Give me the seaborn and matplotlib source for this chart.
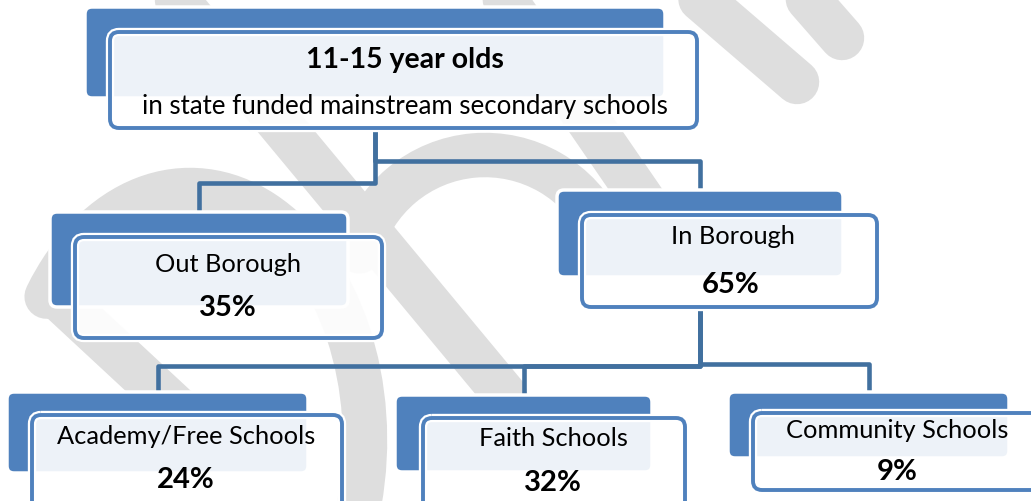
import matplotlib
matplotlib.use("Agg")
import matplotlib.pyplot as plt
import seaborn as sns
from matplotlib.patches import FancyBboxPatch, Arc

# data
node_labels = ["11-15 year olds", "Out Borough", "In Borough",
               "Academy/Free Schools", "Faith Schools", "Community Schools"]
node_pcts = [None, 35, 65, 24, 32, 9]
node_parent = [None, 0, 0, 2, 2, 2]
root_subtitle = "in state funded mainstream secondary schools"

# layout in pixels (x0, y0, x1, y1), y downwards
back_boxes = [(85, 7, 665, 98), (50, 212, 348, 307), (557, 190, 843, 277),
              (7, 392, 308, 473), (395, 395, 652, 472), (728, 392, 1009, 458)]
front_boxes = [(110, 32, 697, 128), (75, 237, 382, 338), (582, 215, 877, 307),
               (32, 415, 342, 515), (423, 418, 685, 515), (753, 413, 1045, 490)]
label_pos = [(405, 60), (228, 264), (733, 237), (186, 437), (553, 438), (897, 430)]
pct_pos = [None, (228, 308), (731, 285), (186, 480), (553, 483), (897, 472)]
elbow_y = [None, 183, 161, 366, 366, 364]

sns.set_theme(style="white")
plt.rcParams["font.family"] = ["Lato", "DejaVu Sans"]

BLUE = "#4F81BD"
LINE = "#41709F"
WM = "#DEDEDE"

fig = plt.figure(figsize=(10.31, 5.01), dpi=100)
ax = fig.add_axes([0, 0, 1, 1])
ax.set_xlim(0, 1031)
ax.set_ylim(501, 0)
ax.axis("off")

# faint watermark behind the chart
wm_lw = 32
for (xa, ya), (xb, yb) in [((177, 0), (505, 395)), ((55, 295), (195, 425)),
                           ((502, -5), (660, 225)), ((690, -10), (797, 82)),
                           ((800, -10), (842, 38))]:
    ax.plot([xa, xb], [ya, yb], color=WM, lw=wm_lw, solid_capstyle="round", zorder=0)
ax.add_patch(Arc((190, 440), 350, 500, theta1=225, theta2=380, color=WM, lw=wm_lw,
                 capstyle="round", zorder=0))
ax.add_patch(Arc((485, 285), 260, 260, theta1=195, theta2=335, color=WM, lw=wm_lw,
                 capstyle="round", zorder=0))

# connectors
for i, p in enumerate(node_parent):
    if p is None:
        continue
    px = (back_boxes[p][0] + back_boxes[p][2]) / 2
    py = front_boxes[p][3]
    cx = (back_boxes[i][0] + back_boxes[i][2]) / 2
    cy = back_boxes[i][1] - 2
    ey = elbow_y[i]
    ax.plot([px, px, cx, cx], [py, ey, ey, cy], color=LINE, lw=3.3,
            solid_joinstyle="round", zorder=1)

# nodes
for i, lab in enumerate(node_labels):
    x0, y0, x1, y1 = back_boxes[i]
    ax.add_patch(FancyBboxPatch((x0, y0), x1 - x0, y1 - y0,
                                boxstyle="round,pad=0,rounding_size=7",
                                fc=BLUE, ec="white", lw=2.5, zorder=2))
    x0, y0, x1, y1 = front_boxes[i]
    ax.add_patch(FancyBboxPatch((x0, y0), x1 - x0, y1 - y0,
                                boxstyle="round,pad=0,rounding_size=9",
                                fc="none", ec="white", lw=6, zorder=3))
    ax.add_patch(FancyBboxPatch((x0, y0), x1 - x0, y1 - y0,
                                boxstyle="round,pad=0,rounding_size=9",
                                fc=(1, 1, 1, 0.9), ec=BLUE, lw=2.8, zorder=3))
    lx, ly = label_pos[i]
    if i == 0:
        ax.text(lx, ly, lab, ha="center", va="center", fontsize=20.5,
                fontweight="bold", color="black", zorder=4)
        ax.text(lx, 106, root_subtitle, ha="center", va="center",
                fontsize=18.6, color="black", zorder=4)
    else:
        ax.text(lx, ly, lab, ha="center", va="center", fontsize=18.3,
                color="black", zorder=4)
        qx, qy = pct_pos[i]
        ax.text(qx, qy, f"{node_pcts[i]}%", ha="center", va="center",
                fontsize=21, fontweight="bold", color="black", zorder=4)

fig.savefig("out.png", dpi=100)
